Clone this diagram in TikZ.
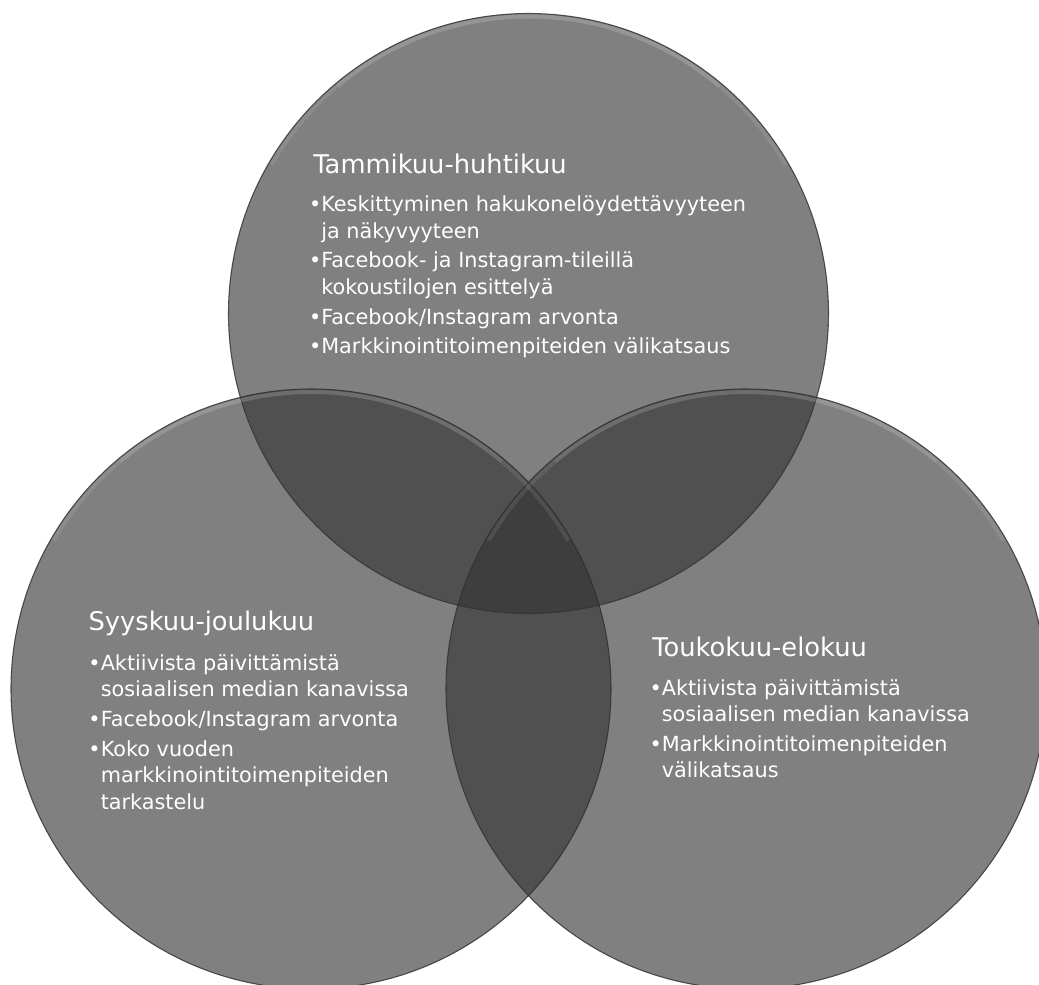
\documentclass[tikz,border=0pt]{standalone}
\usepackage{fontspec}
\setmainfont{DejaVu Sans}
\definecolor{vennfill}{RGB}{51,51,51}
\definecolor{vennline}{RGB}{45,45,45}
\newcommand\bul{\leavevmode\llap{•}}
\newcommand\blist[1]{\parbox[t]{560pt}{\raggedright\setlength\parindent{0pt}\fontsize{15.6}{19.9}\selectfont #1}}
\begin{document}
\begin{tikzpicture}[x=0.75pt,y=-0.75pt,
  venn/.style={circle, inner sep=0pt, minimum size=450pt, fill=vennfill, fill opacity=0.62, draw=vennline, draw opacity=0.8, line width=0.8pt},
  bevel/.style={white, line width=3pt, opacity=0.09},
  ttl/.style={anchor=base west, inner sep=0pt, text=white, font=\fontsize{19.3}{23}\selectfont},
  lst/.style={anchor=base west, inner sep=0pt, text=white}]
\clip (0,0) rectangle (1039,985);
\fill[white] (0,0) rectangle (1039,985);
\node[venn] (ctop) at (528.5,313.5) {};
\node[venn] (cright) at (746,689) {};
\node[venn] (cleft) at (311,689) {};
\foreach \c in {ctop,cright,cleft}{
  \draw[bevel] ([shift={(210:297)}]\c.center) arc[start angle=210, end angle=330, radius=297];
  \draw[bevel] ([shift={(230:297)}]\c.center) arc[start angle=230, end angle=310, radius=297];
}
\node[ttl] (ttop) at (313,173) {Tammikuu-huhtikuu};
\node[lst] (ltop) at (321,211.7) {\blist{\bul Keskittyminen hakukonelöydettävyyteen\\ja näkyvyyteen\\[2.4pt]\bul Facebook- ja Instagram-tileillä\\kokoustilojen esittelyä\\[2.4pt]\bul Facebook/Instagram arvonta\\[2.4pt]\bul Markkinointitoimenpiteiden välikatsaus}};
\node[ttl] (tleft) at (88.3,630) {Syyskuu-joulukuu};
\node[lst] (lleft) at (100.5,670) {\blist{\bul Aktiivista päivittämistä\\sosiaalisen median kanavissa\\[2.4pt]\bul Facebook/Instagram arvonta\\[2.4pt]\bul Koko vuoden\\markkinointitoimenpiteiden\\tarkastelu}};
\node[ttl] (tright) at (652,656) {Toukokuu-elokuu};
\node[lst] (lright) at (661.5,695) {\blist{\bul Aktiivista päivittämistä\\sosiaalisen median kanavissa\\[2.4pt]\bul Markkinointitoimenpiteiden\\välikatsaus}};
\end{tikzpicture}
\end{document}
